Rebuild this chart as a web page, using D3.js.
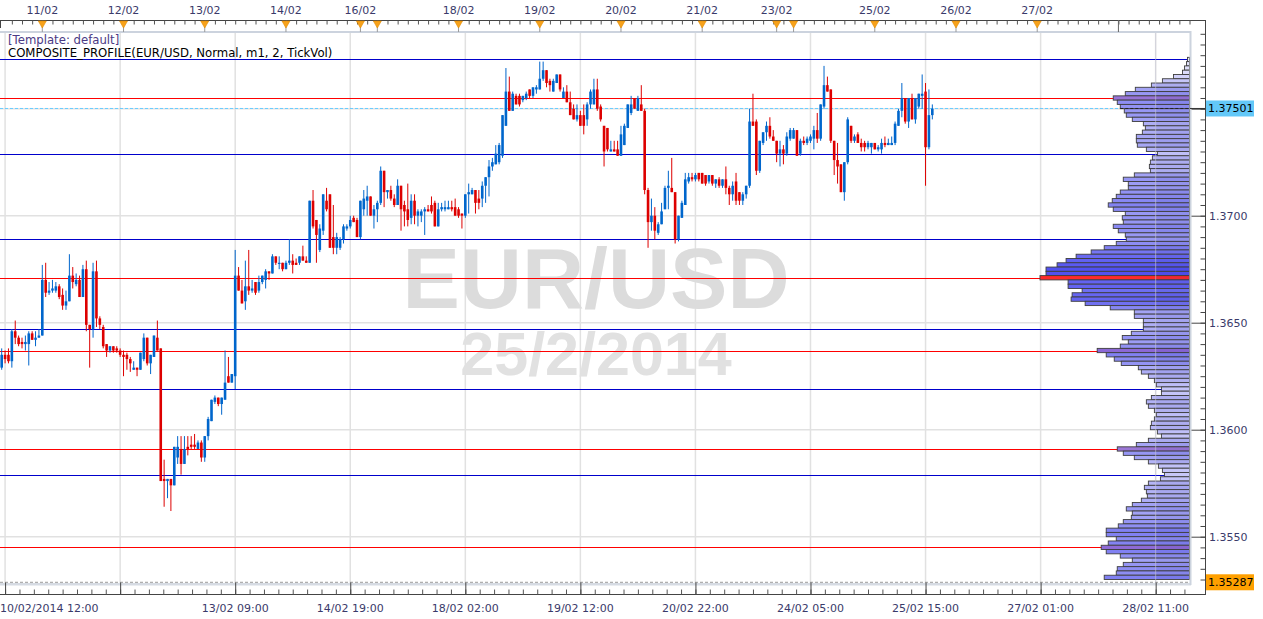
<!DOCTYPE html>
<html>
<head>
<meta charset="utf-8">
<script src="https://cdn.jsdelivr.net/npm/d3@7"></script>
<style>
body { margin: 0; background: #fff; overflow: hidden; }
text { font-family: "DejaVu Sans", Verdana, sans-serif; }
</style>
</head>
<body>
<script>
// EUR/USD hourly bars, first bar = 10/02/2014 12:00
var opens = [
 1.3629,1.3635,1.3635,1.3632,1.3646,1.3643,1.3641,1.3640,1.3640,1.3645,1.3642,1.3643,
 1.3644,1.3670,1.3664,1.3665,1.3665,1.3667,1.3663,1.3658,1.3660,1.3672,1.3668,1.3670,
 1.3662,1.3675,1.3649,1.3647,1.3674,1.3652,1.3648,1.3640,1.3637,1.3639,1.3638,1.3637,
 1.3635,1.3635,1.3633,1.3628,1.3629,1.3628,1.3633,1.3643,1.3631,1.3634,1.3643,1.3638,
 1.3577,1.3576,1.3577,1.3574,1.3587,1.3591,1.3584,1.3592,1.3593,1.3593,1.3591,1.3594,
 1.3587,1.3597,1.3604,1.3613,1.3615,1.3612,1.3614,1.3625,1.3622,1.3625,1.3672,1.3665,
 1.3660,1.3667,1.3665,1.3669,1.3665,1.3669,1.3670,1.3674,1.3673,1.3681,1.3678,1.3678,
 1.3675,1.3678,1.3679,1.3678,1.3678,1.3681,1.3679,1.3678,1.3707,1.3698,1.3684,1.3693,
 1.3707,1.3710,1.3690,1.3685,1.3685,1.3689,1.3694,1.3695,1.3699,1.3698,1.3690,1.3703,
 1.3707,1.3709,1.3700,1.3703,1.3706,1.3721,1.3711,1.3712,1.3708,1.3705,1.3714,1.3705,
 1.3703,1.3699,1.3707,1.3700,1.3700,1.3702,1.3703,1.3705,1.3706,1.3695,1.3703,1.3703,
 1.3703,1.3704,1.3704,1.3703,1.3701,1.3700,1.3710,1.3710,1.3712,1.3708,1.3708,1.3714,
 1.3718,1.3723,1.3724,1.3725,1.3728,1.3742,1.3758,1.3749,1.3756,1.3756,1.3754,1.3755,
 1.3759,1.3756,1.3759,1.3759,1.3764,1.3768,1.3763,1.3758,1.3762,1.3766,1.3755,1.3758,
 1.3753,1.3750,1.3745,1.3747,1.3747,1.3745,1.3752,1.3752,1.3759,1.3751,1.3742,1.3741,
 1.3730,1.3731,1.3731,1.3728,1.3733,1.3741,1.3748,1.3755,1.3749,1.3752,1.3749,1.3712,
 1.3697,1.3700,1.3692,1.3696,1.3703,1.3713,1.3713,1.3711,1.3689,1.3699,1.3705,1.3716,
 1.3718,1.3717,1.3720,1.3720,1.3719,1.3716,1.3719,1.3715,1.3717,1.3714,1.3717,1.3713,
 1.3710,1.3716,1.3711,1.3707,1.3710,1.3714,1.3744,1.3744,1.3721,1.3734,1.3739,1.3742,
 1.3737,1.3735,1.3729,1.3731,1.3729,1.3736,1.3736,1.3740,1.3729,1.3735,1.3734,1.3735,
 1.3736,1.3740,1.3736,1.3751,1.3761,1.3759,1.3735,1.3726,1.3724,1.3711,1.3725,1.3742,
 1.3735,1.3738,1.3734,1.3734,1.3732,1.3732,1.3734,1.3731,1.3731,1.3734,1.3733,1.3733,
 1.3734,1.3742,1.3749,1.3755,1.3744,1.3755,1.3745,1.3751,1.3756,1.3758,1.3732,1.3747
];
var highs = [
 1.3638,1.3637,1.3638,1.3647,1.3651,1.3644,1.3643,1.3644,1.3646,1.3646,1.3646,1.3647,
 1.3677,1.3678,1.3669,1.3670,1.3669,1.3668,1.3666,1.3665,1.3682,1.3676,1.3673,1.3672,
 1.3677,1.3679,1.3649,1.3678,1.3679,1.3653,1.3649,1.3640,1.3639,1.3639,1.3639,1.3638,
 1.3637,1.3636,1.3634,1.3632,1.3629,1.3636,1.3645,1.3643,1.3635,1.3644,1.3651,1.3638,
 1.3586,1.3577,1.3577,1.3592,1.3597,1.3597,1.3597,1.3597,1.3597,1.3598,1.3595,1.3595,
 1.3597,1.3606,1.3614,1.3616,1.3615,1.3615,1.3637,1.3634,1.3626,1.3684,1.3676,1.3670,
 1.3679,1.3684,1.3670,1.3669,1.3672,1.3672,1.3675,1.3674,1.3682,1.3681,1.3681,1.3678,
 1.3679,1.3689,1.3682,1.3680,1.3681,1.3686,1.3681,1.3707,1.3712,1.3698,1.3696,1.3710,
 1.3713,1.3710,1.3705,1.3692,1.3690,1.3696,1.3696,1.3700,1.3700,1.3699,1.3707,1.3712,
 1.3714,1.3709,1.3705,1.3707,1.3723,1.3721,1.3712,1.3714,1.3710,1.3717,1.3714,1.3707,
 1.3715,1.3710,1.3710,1.3703,1.3703,1.3704,1.3705,1.3709,1.3707,1.3706,1.3706,1.3707,
 1.3707,1.3707,1.3708,1.3704,1.3701,1.3710,1.3715,1.3713,1.3712,1.3712,1.3716,1.3718,
 1.3726,1.3727,1.3733,1.3734,1.3747,1.3769,1.3765,1.3758,1.3757,1.3757,1.3756,1.3758,
 1.3759,1.3760,1.3761,1.3772,1.3772,1.3768,1.3764,1.3764,1.3766,1.3766,1.3760,1.3761,
 1.3758,1.3752,1.3752,1.3749,1.3752,1.3753,1.3759,1.3764,1.3764,1.3752,1.3742,1.3741,
 1.3735,1.3735,1.3735,1.3742,1.3743,1.3752,1.3756,1.3755,1.3756,1.3761,1.3750,1.3713,
 1.3708,1.3704,1.3697,1.3706,1.3714,1.3721,1.3727,1.3711,1.3700,1.3707,1.3720,1.3720,
 1.3720,1.3720,1.3720,1.3720,1.3719,1.3719,1.3719,1.3717,1.3718,1.3717,1.3723,1.3714,
 1.3716,1.3720,1.3711,1.3711,1.3714,1.3750,1.3757,1.3745,1.3735,1.3739,1.3744,1.3746,
 1.3740,1.3735,1.3735,1.3733,1.3739,1.3741,1.3741,1.3740,1.3736,1.3737,1.3737,1.3738,
 1.3742,1.3748,1.3752,1.3770,1.3765,1.3759,1.3735,1.3734,1.3724,1.3725,1.3746,1.3742,
 1.3738,1.3739,1.3736,1.3735,1.3735,1.3734,1.3734,1.3733,1.3736,1.3737,1.3736,1.3737,
 1.3744,1.3750,1.3762,1.3755,1.3755,1.3757,1.3755,1.3757,1.3766,1.3762,1.3759,1.3752
];
var lows = [
 1.3628,1.3631,1.3631,1.3629,1.3640,1.3639,1.3638,1.3637,1.3630,1.3642,1.3639,1.3643,
 1.3644,1.3662,1.3663,1.3664,1.3664,1.3661,1.3656,1.3656,1.3660,1.3666,1.3667,1.3662,
 1.3662,1.3646,1.3629,1.3643,1.3648,1.3647,1.3638,1.3634,1.3636,1.3636,1.3636,1.3634,
 1.3625,1.3628,1.3627,1.3628,1.3625,1.3628,1.3632,1.3630,1.3626,1.3634,1.3637,1.3576,
 1.3564,1.3568,1.3562,1.3574,1.3584,1.3579,1.3584,1.3588,1.3591,1.3591,1.3591,1.3585,
 1.3585,1.3595,1.3604,1.3612,1.3611,1.3607,1.3614,1.3622,1.3622,1.3619,1.3665,1.3659,
 1.3656,1.3663,1.3664,1.3663,1.3664,1.3668,1.3666,1.3670,1.3673,1.3677,1.3675,1.3674,
 1.3675,1.3677,1.3673,1.3677,1.3677,1.3679,1.3678,1.3678,1.3694,1.3678,1.3683,1.3691,
 1.3702,1.3685,1.3682,1.3682,1.3684,1.3687,1.3693,1.3694,1.3697,1.3690,1.3689,1.3700,
 1.3700,1.3700,1.3694,1.3697,1.3705,1.3704,1.3708,1.3707,1.3704,1.3705,1.3693,1.3695,
 1.3695,1.3696,1.3696,1.3695,1.3697,1.3691,1.3702,1.3701,1.3695,1.3695,1.3702,1.3702,
 1.3703,1.3702,1.3700,1.3699,1.3694,1.3699,1.3701,1.3710,1.3701,1.3703,1.3704,1.3706,
 1.3709,1.3721,1.3724,1.3724,1.3727,1.3742,1.3749,1.3749,1.3752,1.3751,1.3753,1.3754,
 1.3755,1.3755,1.3757,1.3759,1.3763,1.3760,1.3758,1.3758,1.3762,1.3758,1.3755,1.3753,
 1.3747,1.3745,1.3744,1.3742,1.3738,1.3742,1.3750,1.3752,1.3749,1.3744,1.3723,1.3730,
 1.3730,1.3730,1.3728,1.3728,1.3733,1.3741,1.3747,1.3750,1.3749,1.3749,1.3710,1.3685,
 1.3693,1.3689,1.3691,1.3696,1.3703,1.3703,1.3711,1.3687,1.3688,1.3699,1.3705,1.3715,
 1.3716,1.3716,1.3716,1.3715,1.3714,1.3715,1.3714,1.3713,1.3713,1.3713,1.3710,1.3705,
 1.3707,1.3705,1.3705,1.3705,1.3708,1.3713,1.3742,1.3719,1.3720,1.3733,1.3735,1.3736,
 1.3735,1.3725,1.3723,1.3724,1.3728,1.3735,1.3736,1.3728,1.3728,1.3733,1.3733,1.3734,
 1.3731,1.3734,1.3735,1.3750,1.3758,1.3734,1.3719,1.3715,1.3711,1.3707,1.3724,1.3734,
 1.3734,1.3734,1.3730,1.3730,1.3731,1.3729,1.3731,1.3730,1.3729,1.3732,1.3733,1.3733,
 1.3733,1.3742,1.3746,1.3743,1.3741,1.3745,1.3743,1.3750,1.3750,1.3714,1.3731,1.3745
];
var closes = [
 1.3635,1.3633,1.3632,1.3646,1.3643,1.3640,1.3640,1.3641,1.3645,1.3642,1.3643,1.3644,
 1.3670,1.3664,1.3665,1.3666,1.3667,1.3662,1.3658,1.3660,1.3672,1.3669,1.3670,1.3662,
 1.3675,1.3649,1.3647,1.3674,1.3652,1.3649,1.3639,1.3637,1.3639,1.3637,1.3637,1.3635,
 1.3634,1.3633,1.3631,1.3629,1.3628,1.3636,1.3643,1.3631,1.3635,1.3644,1.3637,1.3576,
 1.3576,1.3577,1.3574,1.3592,1.3592,1.3584,1.3591,1.3591,1.3592,1.3592,1.3594,1.3587,
 1.3597,1.3605,1.3614,1.3615,1.3612,1.3615,1.3622,1.3622,1.3626,1.3672,1.3665,1.3659,
 1.3667,1.3665,1.3666,1.3664,1.3669,1.3672,1.3674,1.3673,1.3681,1.3678,1.3678,1.3675,
 1.3678,1.3679,1.3677,1.3677,1.3681,1.3679,1.3678,1.3707,1.3695,1.3691,1.3694,1.3710,
 1.3703,1.3685,1.3685,1.3690,1.3689,1.3695,1.3695,1.3698,1.3697,1.3690,1.3707,1.3708,
 1.3709,1.3700,1.3703,1.3706,1.3721,1.3711,1.3712,1.3708,1.3705,1.3714,1.3703,1.3702,
 1.3698,1.3707,1.3700,1.3702,1.3702,1.3703,1.3702,1.3702,1.3695,1.3703,1.3704,1.3704,
 1.3704,1.3703,1.3700,1.3700,1.3700,1.3710,1.3711,1.3712,1.3706,1.3706,1.3714,1.3718,
 1.3723,1.3725,1.3729,1.3733,1.3747,1.3758,1.3749,1.3757,1.3752,1.3752,1.3756,1.3757,
 1.3756,1.3760,1.3760,1.3764,1.3768,1.3762,1.3761,1.3763,1.3766,1.3759,1.3758,1.3753,
 1.3747,1.3745,1.3747,1.3742,1.3742,1.3752,1.3758,1.3759,1.3750,1.3745,1.3730,1.3731,
 1.3731,1.3730,1.3728,1.3738,1.3742,1.3752,1.3752,1.3750,1.3755,1.3749,1.3712,1.3697,
 1.3700,1.3693,1.3696,1.3702,1.3713,1.3714,1.3711,1.3689,1.3700,1.3706,1.3717,1.3718,
 1.3717,1.3719,1.3717,1.3715,1.3715,1.3719,1.3715,1.3717,1.3714,1.3717,1.3713,1.3710,
 1.3714,1.3707,1.3707,1.3710,1.3714,1.3744,1.3742,1.3721,1.3735,1.3739,1.3742,1.3737,
 1.3735,1.3729,1.3731,1.3729,1.3737,1.3740,1.3740,1.3728,1.3735,1.3734,1.3736,1.3737,
 1.3740,1.3736,1.3752,1.3761,1.3758,1.3735,1.3726,1.3723,1.3711,1.3725,1.3745,1.3735,
 1.3737,1.3734,1.3732,1.3732,1.3734,1.3734,1.3731,1.3732,1.3734,1.3733,1.3734,1.3734,
 1.3743,1.3749,1.3755,1.3744,1.3755,1.3745,1.3755,1.3757,1.3757,1.3732,1.3747,1.3750
];

// composite volume profile, 2 pip bins, listed from the top bin (1.3772-1.3774) down
var profileTop = 1.3774;
var profileStep = 0.0002;
var profileVol = [
 2,3,5,7,16,27,38,54,64,76,72,69,65,63,57,46,44,
 47,53,53,52,43,32,37,39,40,39,55,66,61,61,69,73,77,81,76,64,67,66,76,71,64,63,73,85,98,
 113,123,132,143,143,149,121,121,107,117,118,104,79,55,55,46,46,46,58,67,61,69,92,
 83,75,68,51,48,41,35,33,28,28,38,43,41,35,33,35,38,39,32,28,41,53,72,66,55,41,31,27,25,
 29,41,45,43,42,48,57,63,57,58,66,71,83,83,73,81,88,83,69,57,
 66,72,73,85
];

var redLevels = [1.3755, 1.3671, 1.3637, 1.3591, 1.3545];
var blueLevels = [1.3773, 1.3729, 1.3689, 1.3647, 1.3619, 1.3579];
var lastPrice = 1.37501;
var lowPrice = 1.35287;

var priceTicks = [1.3550, 1.3600, 1.3650, 1.3700];
var gridPrices = [1.3550, 1.3600, 1.3650, 1.3700, 1.3750];

var dayIdx = [12, 36, 60, 84, 106, 111, 135, 159, 183, 207, 229, 234, 258, 282, 306];
var dayLbl = ["11/02", "12/02", "13/02", "14/02", "16/02", "", "18/02", "19/02", "20/02", "21/02", "23/02", "", "25/02", "26/02", "27/02"];
var nextDayIdx = 330;

var timeIdx = [1, 35, 69, 103, 137, 171, 205, 239, 273, 307, 341];
var timeLbl = ["10/02/2014 12:00", "", "13/02 09:00", "14/02 19:00", "18/02 02:00", "19/02 12:00",
               "20/02 22:00", "24/02 05:00", "25/02 15:00", "27/02 01:00", "28/02 11:00"];

var upCol = "#0066cc", downCol = "#dd0000", axisTxt = "#3a3a6a";

var svg = d3.select("body").append("svg")
  .attr("width", 1263)
  .attr("height", 619);

var plotR = 1190, plotT = 32, plotB = 585, axisX = 1205;

var x = d3.scaleLinear().domain([0, 351]).range([1.7, 1189.5]);
var y = d3.scaleLinear().domain([1.352743, 1.378584]).range([585, 32]);

svg.append("defs").append("clipPath").attr("id", "plot")
  .append("rect").attr("x", 0).attr("y", plotT).attr("width", plotR).attr("height", plotB - plotT);

var g = svg.append("g").attr("clip-path", "url(#plot)");

// grid
g.selectAll(".hg").data(gridPrices).enter().append("line")
  .attr("x1", 0).attr("x2", plotR)
  .attr("y1", function (d) { return y(d); }).attr("y2", function (d) { return y(d); })
  .attr("stroke", "#e1e1e1").attr("stroke-width", 1.5);
g.selectAll(".vg").data(timeIdx).enter().append("line")
  .attr("x1", function (d) { return x(d); }).attr("x2", function (d) { return x(d); })
  .attr("y1", plotT).attr("y2", plotB)
  .attr("stroke", "#e1e1e1").attr("stroke-width", 1.5);

// watermark
g.append("text").attr("x", 596).attr("y", 308).attr("text-anchor", "middle")
  .style("font", "bold 86px 'Liberation Sans', Arial, sans-serif")
  .attr("fill", "#dcdcdc").text("EUR/USD");
g.append("text").attr("x", 596).attr("y", 375).attr("text-anchor", "middle")
  .style("font", "bold 61px 'Liberation Sans', Arial, sans-serif")
  .attr("fill", "#e1e1e1").text("25/2/2014");

// levels
g.selectAll(".rl").data(redLevels).enter().append("line")
  .attr("x1", 0).attr("x2", plotR)
  .attr("y1", function (d) { return Math.round(y(d)) + 0.5; })
  .attr("y2", function (d) { return Math.round(y(d)) + 0.5; })
  .attr("stroke", "#ff0000").attr("stroke-width", 1);
g.selectAll(".bl").data(blueLevels).enter().append("line")
  .attr("x1", 0).attr("x2", plotR)
  .attr("y1", function (d) { return Math.round(y(d)) + 0.5; })
  .attr("y2", function (d) { return Math.round(y(d)) + 0.5; })
  .attr("stroke", "#0000cc").attr("stroke-width", 1);

g.append("line").attr("x1", 0).attr("x2", plotR)
  .attr("y1", y(lastPrice)).attr("y2", y(lastPrice))
  .attr("stroke", "#66ccff").attr("stroke-dasharray", "3,2");
g.append("line").attr("x1", 0).attr("x2", plotR)
  .attr("y1", y(lowPrice)).attr("y2", y(lowPrice))
  .attr("stroke", "#999").attr("stroke-dasharray", "3,2");

// candles
var idx = d3.range(opens.length);
function col(i) { return closes[i] >= opens[i] ? upCol : downCol; }
g.selectAll(".wick").data(idx).enter().append("line")
  .attr("x1", function (i) { return x(i); }).attr("x2", function (i) { return x(i); })
  .attr("y1", function (i) { return y(highs[i]); }).attr("y2", function (i) { return y(lows[i]); })
  .attr("stroke", col).attr("stroke-width", 1);
g.selectAll(".body").data(idx).enter().append("rect")
  .attr("x", function (i) { return x(i) - 1.3; })
  .attr("width", 2.6)
  .attr("y", function (i) { return y(Math.max(opens[i], closes[i])); })
  .attr("height", function (i) { return Math.max(1.2, Math.abs(y(opens[i]) - y(closes[i]))); })
  .attr("fill", col);

// profile
var bins = d3.range(profileVol.length);
var volMax = d3.max(profileVol);
var pw = d3.scaleLinear().domain([0, volMax]).range([0, 149.5]);
var shade = d3.scaleLinear()
  .domain([0, volMax * 0.2, volMax * 0.55, volMax])
  .range(["#e4e4fb", "#c2c2f8", "#8282f2", "#4c4cf0"]);
var splitX = x(timeIdx[timeIdx.length - 1]);
function binTop(k) { return profileTop - k * profileStep; }
function barX(k) { return plotR - 0.5 - pw(profileVol[k]); }
function hasRed(k) {
  var t = binTop(k), b = t - profileStep;
  return redLevels.some(function (p) { return p < t - 1e-7 && p > b + 1e-7; });
}
g.selectAll(".pb").data(bins).enter().append("rect")
  .attr("x", barX)
  .attr("width", function (k) { return pw(profileVol[k]); })
  .attr("y", function (k) { return y(binTop(k)); })
  .attr("height", function (k) { return y(binTop(k) - profileStep) - y(binTop(k)); })
  .attr("fill", function (k) {
    if (profileVol[k] === volMax) return "#ff2a2a";
    if (hasRed(k)) return d3.interpolateRgb(shade(profileVol[k]), "#c03080")(0.25);
    return shade(profileVol[k]);
  })
  .attr("stroke", "#3e3e3e").attr("stroke-width", 0.9);
// darker right part of the composite bars
g.selectAll(".pr").data(bins.filter(function (k) { return barX(k) < splitX; })).enter().append("rect")
  .attr("x", splitX).attr("width", plotR - 0.5 - splitX)
  .attr("y", function (k) { return y(binTop(k)) + 0.5; })
  .attr("height", function (k) { return y(binTop(k) - profileStep) - y(binTop(k)) - 1; })
  .attr("fill", "#20208a").attr("opacity", 0.07);
g.append("line").attr("x1", splitX).attr("x2", splitX).attr("y1", plotT).attr("y2", plotB)
  .attr("stroke", "#c8c8d8").attr("stroke-width", 1).attr("opacity", 0.6);
// last price continues dark through the profile
var kLast = bins.filter(function (k) { return Math.abs(binTop(k) - profileStep - lastPrice) < 0.0001; })[0];
g.append("line").attr("x1", barX(kLast)).attr("x2", plotR)
  .attr("y1", y(lastPrice)).attr("y2", y(lastPrice))
  .attr("stroke", "#222").attr("stroke-dasharray", "3,2");

// plot frame
svg.append("rect").attr("x", 0).attr("y", plotT - 1).attr("width", plotR + 1).attr("height", 2).attr("fill", "#ccd3de");
svg.append("rect").attr("x", 0).attr("y", plotB - 2).attr("width", plotR + 1).attr("height", 2.5).attr("fill", "#d6dbe3");
svg.append("rect").attr("x", plotR - 0.5).attr("y", plotT - 1).attr("width", 2).attr("height", plotB - plotT + 1).attr("fill", "#ccd3de");

// axis lines
var axisCol = "#444";
svg.append("line").attr("x1", 0).attr("x2", axisX).attr("y1", 20.5).attr("y2", 20.5).attr("stroke", axisCol);
svg.append("line").attr("x1", 0).attr("x2", axisX).attr("y1", 594.5).attr("y2", 594.5).attr("stroke", axisCol);
svg.append("line").attr("x1", axisX + 0.5).attr("x2", axisX + 0.5).attr("y1", 20).attr("y2", 595).attr("stroke", axisCol);
svg.append("line").attr("x1", 0.5).attr("x2", 0.5).attr("y1", 20).attr("y2", 28).attr("stroke", axisCol);

// top time axis
var topAxis = d3.axisBottom(x).tickValues(d3.range(3, 352, 3)).tickSize(4).tickFormat("");
var ta = svg.append("g").attr("transform", "translate(0,20.5)").call(topAxis);
ta.select(".domain").remove();
ta.selectAll("line").attr("stroke", "#555");

svg.append("line").attr("x1", x(nextDayIdx)).attr("x2", x(nextDayIdx)).attr("y1", 20).attr("y2", 32).attr("stroke", "#666");
svg.selectAll(".stem").data(dayIdx).enter().append("line")
  .attr("x1", function (d) { return x(d); }).attr("x2", function (d) { return x(d); })
  .attr("y1", 26).attr("y2", 32).attr("stroke", "#999");
svg.selectAll(".tri").data(dayIdx).enter().append("path")
  .attr("d", function (d) { var c = x(d); return "M" + (c - 4) + ",21L" + (c + 4) + ",21L" + c + ",28Z"; })
  .attr("fill", "#f7a21b").attr("stroke", "#e28c00").attr("stroke-width", 0.6);
svg.selectAll(".dl").data(dayIdx).enter().append("text")
  .attr("x", function (d) { return x(d); }).attr("y", 14)
  .attr("text-anchor", "middle").attr("font-size", 11).attr("fill", axisTxt)
  .text(function (d, i) { return dayLbl[i]; });

// bottom time axis
var minorT = d3.range(1, 352, 34 / 8);
var ba = svg.append("g").attr("transform", "translate(0,594.5)")
  .call(d3.axisTop(x).tickValues(minorT).tickSize(5).tickFormat(""));
ba.select(".domain").remove();
ba.selectAll("line").attr("stroke", "#555");
var bb = svg.append("g").attr("transform", "translate(0,594.5)")
  .call(d3.axisTop(x).tickValues(timeIdx).tickSize(12).tickFormat(""));
bb.select(".domain").remove();
bb.selectAll("line").attr("stroke", "#444");
svg.selectAll(".tl").data(timeIdx).enter().append("text")
  .attr("x", function (d, i) { return i === 0 ? 0 : x(d); })
  .attr("y", 612)
  .attr("text-anchor", function (d, i) { return i === 0 ? "start" : "middle"; })
  .attr("font-size", 11).attr("fill", axisTxt)
  .text(function (d, i) { return timeLbl[i]; });

// price axis
var pMinor = d3.range(1.3530, 1.3786, 0.0005);
var pa = svg.append("g").attr("transform", "translate(" + (axisX + 0.5) + ",0)")
  .call(d3.axisLeft(y).tickValues(pMinor).tickSize(5).tickFormat(""));
pa.select(".domain").remove();
pa.selectAll("line").attr("stroke", "#444");
var pb = svg.append("g").attr("transform", "translate(" + (axisX + 0.5) + ",0)")
  .call(d3.axisLeft(y).tickValues(gridPrices).tickSize(14).tickFormat(""));
pb.select(".domain").remove();
pb.selectAll("line").attr("stroke", "#444");
svg.selectAll(".pl").data(priceTicks).enter().append("text")
  .attr("x", axisX + 4).attr("y", function (d) { return y(d) + 4; })
  .attr("font-size", 11).attr("fill", axisTxt)
  .text(function (d) { return d.toFixed(4); });

svg.append("line").attr("x1", plotR).attr("x2", axisX).attr("y1", y(lastPrice)).attr("y2", y(lastPrice)).attr("stroke", "#333");

function priceBox(p, fill) {
  svg.append("rect").attr("x", axisX + 1).attr("y", y(p) - 8).attr("width", 48).attr("height", 16).attr("fill", fill);
  svg.append("text").attr("x", axisX + 3).attr("y", y(p) + 4).attr("font-size", 11).attr("fill", "#000").text(p.toFixed(5));
}
priceBox(lastPrice, "#63c8f8");
priceBox(lowPrice, "#ffa000");

// header
svg.append("text").attr("x", 8).attr("y", 44).attr("font-size", 11.7).attr("fill", "#4b3a85").text("[Template: default]");
svg.append("text").attr("x", 8).attr("y", 57).attr("font-size", 11.7).attr("fill", "#000")
  .text("COMPOSITE_PROFILE(EUR/USD, Normal, m1, 2, TickVol)");
</script>
</body>
</html>
